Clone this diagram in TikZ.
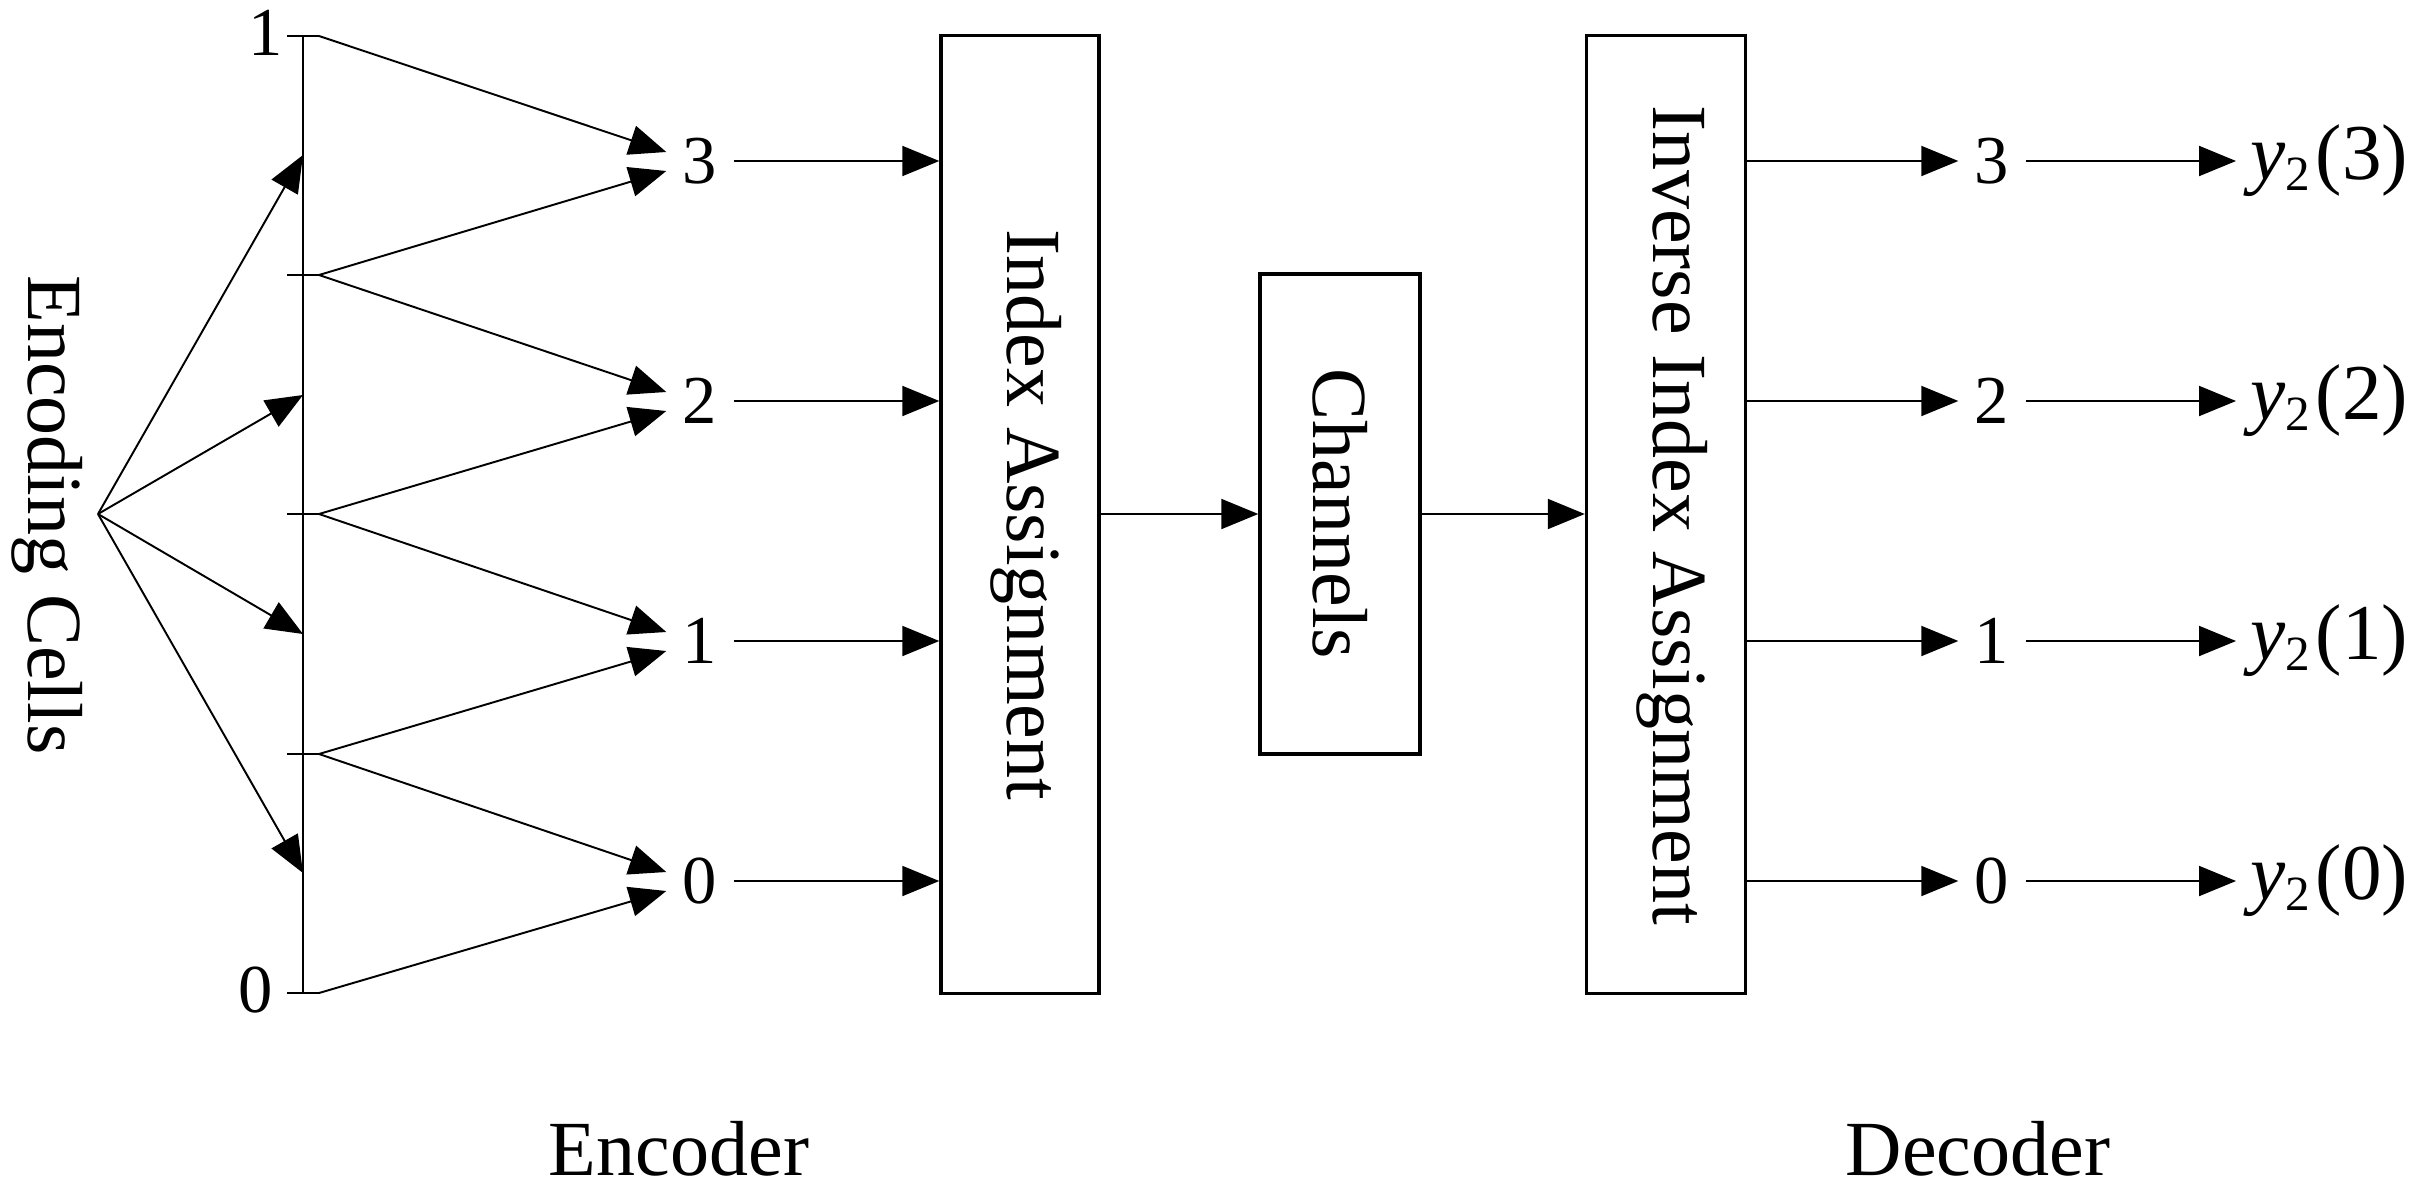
\documentclass[tikz,border=0pt]{standalone}
\usepackage{fontspec}
\setmainfont{Liberation Serif}
\usetikzlibrary{arrows.meta,calc}
\begin{document}
\begin{tikzpicture}[x=0.01cm,y=-0.01cm,
  thin/.style={line width=0.55pt},
  arr/.style={thin,-{Triangle[length=0.37cm,width=0.30cm]}},
  blk/.style={draw,line width=0.95pt,inner sep=0pt},
  word/.style={font=\fontsize{22.2pt}{26pt}\selectfont,inner sep=0pt},
  digit/.style={font=\fontsize{19.5pt}{22pt}\selectfont,inner sep=0pt,minimum width=0.66cm},
  ylab/.style={font=\fontsize{22.5pt}{26pt}\selectfont,inner sep=0pt,anchor=west}]
\useasboundingbox (0,0) rectangle (2410,1200);

% scale line with ticks
\coordinate (top) at (303,36);
\coordinate (bot) at (303,993);
\draw[thin] (top) -- (bot);
\foreach \i/\y in {0/36,1/275,2/514,3/754,4/993}{
  \coordinate (tl\i) at (287,\y);
  \coordinate (tr\i) at (319,\y);
  \draw[thin] (tl\i) -- (tr\i);
}
\node[digit] (one) at (266,33) {1};
\node[digit] (zero) at (256,990) {0};

% encoding cells fan
\node[word,rotate=-90,anchor=base] (EC) at (28,515) {Encoding Cells};
\coordinate (apex) at (98,514);
\foreach \j/\y in {1/155,2/395,3/634,4/873}{
  \coordinate (m\j) at (303,\y);
  \draw[arr] (apex) -- (m\j);
}

% index labels (encoder)
\node[digit] (L3) at (700,161) {3};
\node[digit] (L2) at (700,401) {2};
\node[digit] (L1) at (700,641) {1};
\node[digit] (L0) at (700,881) {0};

\draw[arr] (tr0) -- ($(L3.west)+(0,-9)$);
\draw[arr] (tr1) -- ($(L3.west)+(0,10)$);
\draw[arr] (tr1) -- ($(L2.west)+(0,-9)$);
\draw[arr] (tr2) -- ($(L2.west)+(0,10)$);
\draw[arr] (tr2) -- ($(L1.west)+(0,-9)$);
\draw[arr] (tr3) -- ($(L1.west)+(0,10)$);
\draw[arr] (tr3) -- ($(L0.west)+(0,-9)$);
\draw[arr] (tr4) -- ($(L0.west)+(0,10)$);

% blocks
\node[blk,minimum width=1.58cm,minimum height=9.57cm] (IA) at (1020,514.5) {};
\node[word,rotate=-90,anchor=base] (IAt) at (1007,515) {Index Assignment};
\node[blk,minimum width=1.60cm,minimum height=4.80cm] (CH) at (1340,514) {};
\node[word,rotate=-90] (CHt) at (CH.center) {Channels};
\node[blk,minimum width=1.59cm,minimum height=9.57cm] (IIA) at (1666,514.5) {};
\node[word,rotate=-90,anchor=base] (IIAt) at (1653,515) {Inverse Index Assignment};

\foreach \k in {3,2,1,0}{
  \draw[arr] (L\k.east) -- (L\k.east -| IA.west);
}
\draw[arr] (IA.east |- CH.west) -- (CH.west);
\draw[arr] (CH.east) -- (CH.east -| IIA.west);

% decoder outputs
\node[digit] (R3) at (1992,161) {3};
\node[digit] (R2) at (1992,401) {2};
\node[digit] (R1) at (1992,641) {1};
\node[digit] (R0) at (1992,881) {0};
\foreach \k in {3,2,1,0}{
  \node[ylab] (Y\k) at (2250,161+240*3-240*\k) {{\itshape y}\raisebox{-3pt}{\fontsize{14pt}{16pt}\selectfont 2}\kern1.5pt(\k)};
  \draw[arr] (R\k.west -| IIA.east) -- (R\k.west);
  \draw[arr] (R\k.east) -- ($(Y\k.west)+(-14,0)$);
}

% captions
\node[word,anchor=base] (enc) at (679,1175) {Encoder};
\node[word,anchor=base] (dec) at (1978,1175) {Decoder};
\end{tikzpicture}
\end{document}
